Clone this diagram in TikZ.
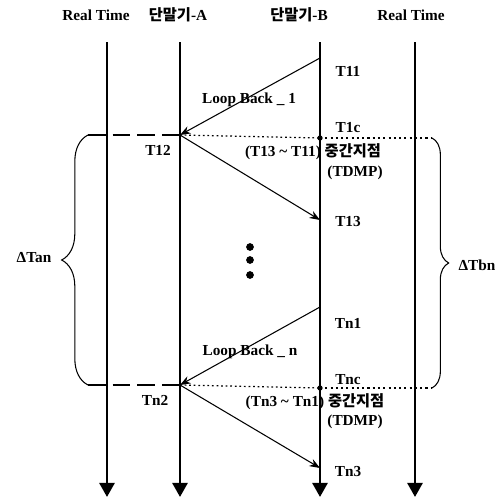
\documentclass[tikz,border=0pt]{standalone}
\usepackage{fontspec}
\setmainfont{Liberation Serif}
\newfontfamily\kr{Noto Sans CJK KR}
\usetikzlibrary{arrows.meta,decorations.pathreplacing}

\begin{document}
\begin{tikzpicture}[x=0.02cm,y=-0.02cm,
    font=\bfseries\fontsize{8.7}{10}\selectfont,
    life/.style={line width=1.7pt,-{Triangle[length=8pt,width=8.5pt]}},
    msg/.style={line width=0.6pt,-{Stealth[length=6pt,width=4.5pt]}},
    cut/.style={line width=1.6pt,dash pattern=on 10pt off 4pt},
    mid/.style={line width=0.7pt,dash pattern=on 1pt off 1.6pt},
    midthick/.style={line width=1.2pt,dash pattern=on 1.2pt off 1.8pt},
    curly/.style={line width=0.6pt,decorate}]
    \useasboundingbox (0,0) rectangle (501,497);

    % Headers
    \node (rtl) at (96,15) {Real Time};
    \node (ha) at (178,15) {{\kr 단말기}-A};
    \node (hb) at (299,15) {{\kr 단말기}-B};
    \node (rtr) at (411,15) {Real Time};

    % Draw the lifelines
    \draw[life] (107,42) coordinate (l0) -- (107,497) coordinate (l1);
    \draw[life] (180,42) coordinate (a0) -- (180,497) coordinate (a1);
    \draw[life] (320,42) coordinate (b0) -- (320,497) coordinate (b1);
    \draw[life] (415,42) coordinate (r0) -- (415,497) coordinate (r1);

    % Points on the lifelines
    \coordinate (b11) at (320,58);
    \coordinate (a12) at (180,135);
    \coordinate (b1c) at (320,138);
    \coordinate (b13) at (320,220);
    \coordinate (bn1) at (320,307);
    \coordinate (an2) at (180,385);
    \coordinate (bnc) at (320,388);
    \coordinate (bn3) at (320,468);
    \coordinate (ltop) at (88,135);
    \coordinate (lbot) at (88,385);
    \coordinate (rtop) at (432,138);
    \coordinate (rbot) at (432,388);

    % Draw the loop back messages
    \draw[msg] (b11) -- (a12);
    \draw[msg] (a12) -- (b13);
    \draw[msg] (bn1) -- (an2);
    \draw[msg] (an2) -- (bn3);

    % Cut lines and middle points
    \draw[cut] (ltop) -- (a12);
    \draw[mid] (a12) -- (b1c);
    \draw[midthick] (b1c) -- (rtop);
    \draw[cut] (lbot) -- (an2);
    \draw[mid] (an2) -- (bnc);
    \draw[midthick] (bnc) -- (rbot);
    \fill (b1c) circle (1.5pt);
    \fill (bnc) circle (1.5pt);

    % Braces
    \draw[curly,decoration={brace,amplitude=15pt}] (lbot) -- (ltop);
    \draw[curly,decoration={brace,amplitude=9.5pt}] (rtop) -- (rbot);
    \node (dta) at (34,258) {ΔTan};
    \node (dtb) at (477,265) {ΔTbn};

    % Dots
    \foreach \y in {247,260,275} \fill (250,\y) circle (2.2pt);

    % Labels
    \node (t11) at (348,71) {T11};
    \node (t1c) at (348,128) {T1c};
    \node (t12) at (158,150) {T12};
    \node (t13) at (348,222) {T13};
    \node (tn1) at (348,323) {Tn1};
    \node (tnc) at (348,380) {Tnc};
    \node (tn2) at (155,400) {Tn2};
    \node (tn3) at (348,472) {Tn3};
    \node (lb1) at (249,100) {Loop Back \_ 1};
    \node (lbn) at (250,352) {Loop Back \_ n};
    \node (m1) at (313,152) {(T13 \textasciitilde{} T11) {\kr 중간지점}};
    \node (d1) at (355,173) {(TDMP)};
    \node (mn) at (315,402) {(Tn3 \textasciitilde{} Tn1) {\kr 중간지점}};
    \node (dn) at (355,422) {(TDMP)};
\end{tikzpicture}
\end{document}
